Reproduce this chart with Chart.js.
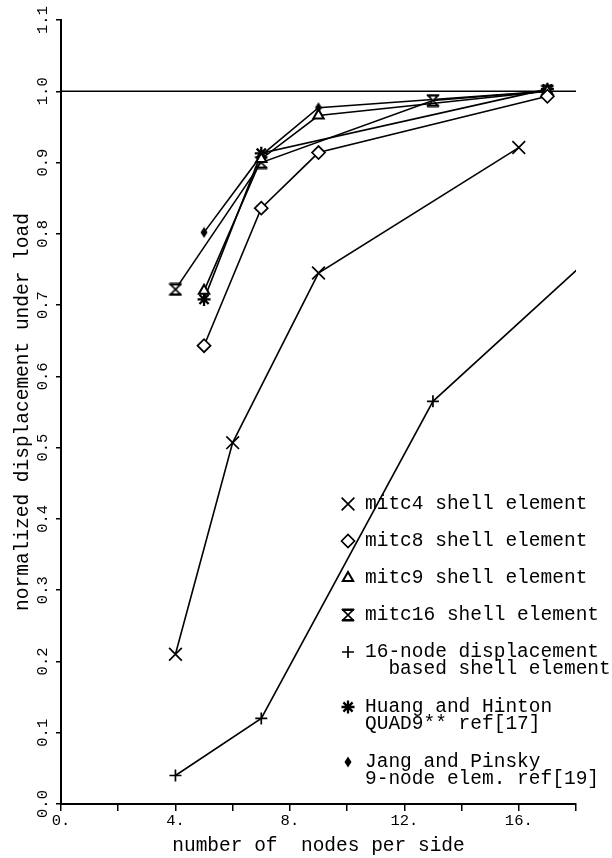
<!DOCTYPE html>
<html>
<head>
<meta charset="utf-8">
<script src="https://cdn.jsdelivr.net/npm/chart.js"></script>
<style>
  body { margin: 0; background: #fff; }
  #wrap { width: 612px; height: 858px; }
</style>
</head>
<body>
<div id="wrap"><canvas id="convChart" width="612" height="858"></canvas></div>
<script>
// normalized displacement under load vs. number of nodes per side
const mitc4Nodes = [4, 6, 9, 16];
const mitc4Disp = [0.21, 0.507, 0.745, 0.921];
const mitc8Nodes = [5, 7, 9, 17];
const mitc8Disp = [0.643, 0.836, 0.914, 0.993];
const mitc9Nodes = [5, 7, 9, 17];
const mitc9Disp = [0.72, 0.905, 0.966, 1.0];
const mitc16Nodes = [4, 7, 13, 17];
const mitc16Disp = [0.722, 0.90, 0.987, 1.0];
const disp16Nodes = [4, 7, 13, 19];
const disp16Disp = [0.04, 0.12, 0.565, 0.785];
const huangNodes = [5, 7, 17];
const huangDisp = [0.708, 0.913, 1.003];
const jangNodes = [5, 7, 9, 17];
const jangDisp = [0.802, 0.91, 0.977, 1.0];

// exact solution reference
const refNodes = [0, 18];
const refDisp = [1.0, 1.0];

const xLabelValues = [0, 4, 8, 12, 16];

const legendLabels = [
    ['mitc4 shell element'],
    ['mitc8 shell element'],
    ['mitc9 shell element'],
    ['mitc16 shell element'],
    ['16-node displacement', '  based shell element'],
    ['Huang and Hinton', 'QUAD9** ref[17]'],
    ['Jang and Pinsky', '9-node elem. ref[19]']
];

function toPoints(xs, ys) {
    return xs.map((x, i) => ({ x: x, y: ys[i] }));
}

// hourglass marker for the mitc16 curve
function makeHourglass() {
    const c = document.createElement('canvas');
    c.width = 14;
    c.height = 14;
    const g = c.getContext('2d');
    g.strokeStyle = '#000';
    g.fillStyle = '#fff';
    g.lineWidth = 1.7;
    g.beginPath();
    g.moveTo(2, 2);
    g.lineTo(12, 2);
    g.lineTo(2, 12);
    g.lineTo(12, 12);
    g.closePath();
    g.fill();
    g.stroke();
    g.lineWidth = 2.4;
    g.beginPath();
    g.moveTo(1, 1.8); g.lineTo(13, 1.8);
    g.moveTo(1, 12.2); g.lineTo(13, 12.2);
    g.stroke();
    return c;
}

// small solid diamond for Jang and Pinsky
function makeSolidDiamond() {
    const c = document.createElement('canvas');
    c.width = 8;
    c.height = 12;
    const g = c.getContext('2d');
    g.fillStyle = '#000';
    g.beginPath();
    g.moveTo(4, 0.5);
    g.lineTo(7.5, 6);
    g.lineTo(4, 11.5);
    g.lineTo(0.5, 6);
    g.closePath();
    g.fill();
    return c;
}

function series(label, xs, ys, style, radius, fill, markWidth) {
    return {
        label: label,
        data: toPoints(xs, ys),
        showLine: true,
        borderColor: '#000',
        borderWidth: 1.6,
        pointStyle: style,
        pointRadius: radius,
        pointBorderWidth: markWidth || 1.7,
        pointBorderColor: '#000',
        pointBackgroundColor: fill
    };
}

const hourglass = makeHourglass();
const solidDiamond = makeSolidDiamond();

const datasets = [
    series('mitc4', mitc4Nodes, mitc4Disp, 'crossRot', 9, '#fff'),
    series('mitc8', mitc8Nodes, mitc8Disp, 'rectRot', 6.5, '#fff'),
    series('mitc9', mitc9Nodes, mitc9Disp, 'triangle', 6, '#fff', 2),
    series('mitc16', mitc16Nodes, mitc16Disp, hourglass, 7, '#fff'),
    series('16-node', disp16Nodes, disp16Disp, 'cross', 6, '#fff'),
    series('Huang', huangNodes, huangDisp, 'star', 6.5, '#000', 2.3),
    series('Jang', jangNodes, jangDisp, solidDiamond, 5, '#000'),
    {
        label: 'exact',
        data: toPoints(refNodes, refDisp),
        showLine: true,
        borderColor: '#000',
        borderWidth: 1.6,
        pointRadius: 0
    }
];

// legend drawn inside the plot, lower right
const sideLegend = {
    id: 'sideLegend',
    afterDatasetsDraw(chart) {
        const ctx = chart.ctx;
        const markX = 348;
        const textX = 365;
        let y = 504;
        ctx.save();
        ctx.font = '19.5px "Liberation Mono"';
        ctx.textBaseline = 'middle';
        ctx.textAlign = 'left';
        legendLabels.forEach((lines, i) => {
            const ds = chart.data.datasets[i];
            ctx.fillStyle = ds.pointBackgroundColor;
            ctx.strokeStyle = '#000';
            ctx.lineWidth = ds.pointBorderWidth;
            if (Chart.helpers && Chart.helpers.drawPoint) {
                Chart.helpers.drawPoint(ctx, {
                    pointStyle: ds.pointStyle,
                    radius: ds.pointRadius,
                    rotation: 0,
                    borderWidth: ds.pointBorderWidth
                }, markX, y);
            }
            ctx.fillStyle = '#000';
            lines.forEach((t, j) => ctx.fillText(t, textX, y + j * 17));
            y += 37 + (lines.length - 1) * 18;
        });
        ctx.restore();
    }
};

Chart.defaults.font.family = '"Liberation Mono", monospace';
Chart.defaults.color = '#000';

new Chart(document.getElementById('convChart'), {
    type: 'scatter',
    data: { datasets: datasets },
    options: {
        responsive: false,
        animation: false,
        events: [],
        layout: { padding: { top: 20, right: 36, left: 0, bottom: 0 } },
        plugins: {
            legend: { display: false },
            tooltip: { enabled: false }
        },
        scales: {
            x: {
                type: 'linear',
                min: 0,
                max: 18,
                afterFit(scale) { scale.height = 54; },
                border: { display: true, color: '#000', width: 2 },
                grid: { drawOnChartArea: false, drawTicks: true, tickLength: 7, color: '#000', lineWidth: 1.5 },
                ticks: {
                    stepSize: 2,
                    autoSkip: false,
                    maxRotation: 0,
                    padding: 1,
                    font: { size: 15.5 },
                    callback: v => xLabelValues.includes(v) ? v + '.' : ''
                },
                title: {
                    display: true,
                    text: 'number of  nodes per side',
                    font: { size: 19.5 },
                    padding: { top: 0, bottom: 0 }
                }
            },
            y: {
                type: 'linear',
                min: 0,
                max: 1.1,
                afterFit(scale) { scale.width = 61; },
                border: { display: true, color: '#000', width: 2 },
                grid: { drawOnChartArea: false, drawTicks: true, tickLength: 5, color: '#000', lineWidth: 1.5 },
                ticks: {
                    stepSize: 0.1,
                    autoSkip: false,
                    minRotation: 90,
                    maxRotation: 90,
                    crossAlign: 'center',
                    padding: -1,
                    font: { size: 15.5 },
                    callback: v => v.toFixed(1)
                },
                title: {
                    display: true,
                    text: 'normalized displacement under load',
                    font: { size: 19.5 },
                    padding: { top: 11, bottom: 0 }
                }
            }
        }
    },
    plugins: [sideLegend]
});
</script>
</body>
</html>
